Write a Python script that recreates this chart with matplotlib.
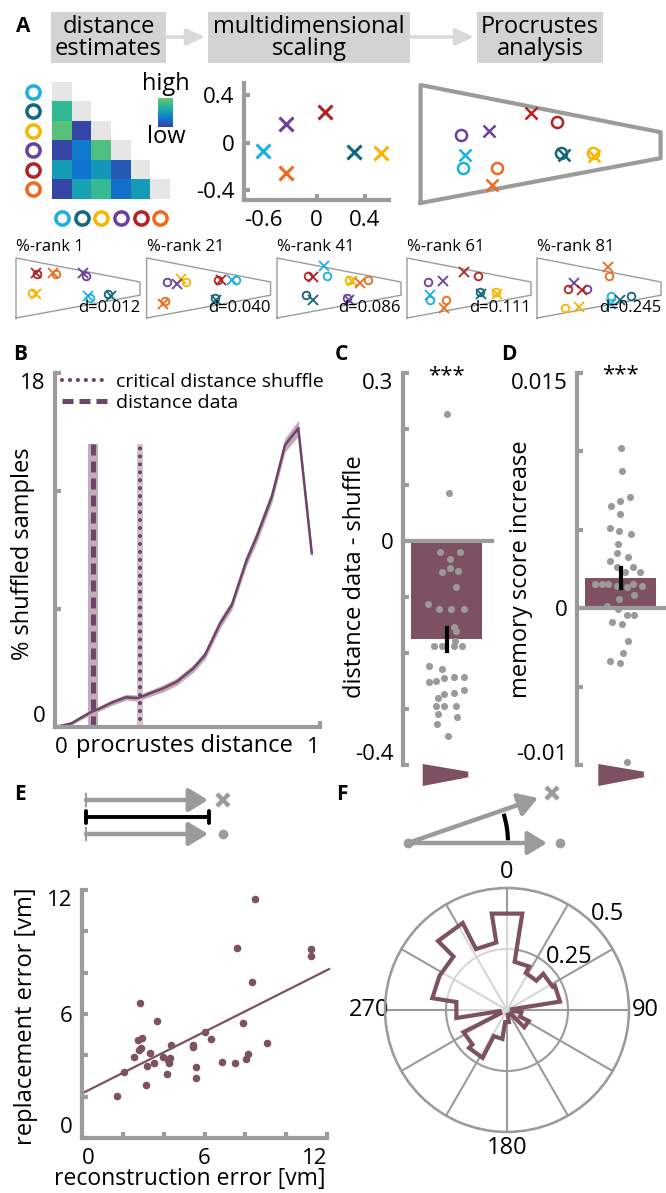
import numpy as np
import matplotlib.pyplot as plt
from matplotlib.colors import LinearSegmentedColormap, ListedColormap
from matplotlib.patches import Polygon, Rectangle, Arc

plt.rcParams['font.family'] = ['Open Sans', 'DejaVu Sans']
plt.rcParams['axes.unicode_minus'] = False

# ---------------- data ----------------
item_colors = ['#1cb0e2', '#14677a', '#f7b500', '#6a3fa0', '#b42323', '#f06a1e']

# A: distance estimates, lower triangle (0 = low, 1 = high)
dist_rows = [[],
             [0.75],
             [0.92, 0.04],
             [0.04, 0.32, 0.88],
             [0.52, 0.30, 0.48, 0.15],
             [0.05, 0.55, 0.78, 0.27, 0.50]]

# A: multidimensional scaling solution
mds_x = [-0.44, 0.31, 0.53, -0.25, 0.07, -0.25]
mds_y = [-0.07, -0.08, -0.09, 0.16, 0.26, -0.25]

# arena outline (normalised)
arena_u = [0, 1, 1, 0, 0]
arena_v = [0, 0.38, 0.60, 1, 0]

# A: procrustes result, true (o) and estimated (x) positions
true_u = [0.177, 0.585, 0.717, 0.168, 0.568, 0.318]
true_v = [0.297, 0.424, 0.424, 0.576, 0.686, 0.297]
est_u = [0.185, 0.597, 0.723, 0.283, 0.460, 0.297]
est_v = [0.407, 0.407, 0.398, 0.610, 0.763, 0.153]

# A: examples at several %-ranks
ranks = [1, 21, 41, 61, 81]
rank_d = ['0.012', '0.040', '0.086', '0.111', '0.245']
rank_true_u = [[0.596, 0.743, 0.127, 0.562, 0.171, 0.322],
               [0.719, 0.555, 0.318, 0.164, 0.572, 0.147],
               [0.404, 0.233, 0.582, 0.568, 0.250, 0.733],
               [0.188, 0.589, 0.719, 0.171, 0.572, 0.315],
               [0.599, 0.760, 0.223, 0.404, 0.247, 0.582]]
rank_true_v = [[0.333, 0.406, 0.417, 0.694, 0.733, 0.739],
               [0.639, 0.333, 0.594, 0.600, 0.628, 0.278],
               [0.694, 0.389, 0.639, 0.333, 0.694, 0.639],
               [0.306, 0.428, 0.428, 0.600, 0.694, 0.306],
               [0.372, 0.372, 0.167, 0.483, 0.483, 0.694]]
rank_est_u = [[0.582, 0.767, 0.161, 0.538, 0.161, 0.298],
              [0.692, 0.558, 0.274, 0.247, 0.599, 0.130],
              [0.377, 0.291, 0.603, 0.582, 0.291, 0.671],
              [0.188, 0.599, 0.726, 0.291, 0.462, 0.298],
              [0.599, 0.668, 0.342, 0.298, 0.360, 0.572]]
rank_est_v = [[0.372, 0.361, 0.406, 0.750, 0.750, 0.750],
              [0.639, 0.294, 0.650, 0.572, 0.639, 0.239],
              [0.870, 0.306, 0.622, 0.294, 0.683, 0.583],
              [0.389, 0.400, 0.400, 0.622, 0.761, 0.167],
              [0.239, 0.294, 0.183, 0.583, 0.461, 0.850]]

# B: distribution of shuffled procrustes distances
shuf_x = [0.019, 0.063, 0.094, 0.132, 0.170, 0.214, 0.268, 0.314, 0.358, 0.409,
          0.459, 0.522, 0.566, 0.623, 0.667, 0.723, 0.761, 0.818, 0.868, 0.918, 0.969]
shuf_y = [0.05, 0.19, 0.44, 0.73, 0.95, 1.24, 1.51, 1.47, 1.71, 1.97,
          2.30, 2.98, 3.66, 5.27, 6.20, 8.49, 9.67, 11.71, 14.34, 15.19, 8.83]
shuf_sem = [0.05, 0.08, 0.10, 0.12, 0.12, 0.14, 0.15, 0.15, 0.16, 0.18,
            0.18, 0.20, 0.22, 0.25, 0.25, 0.28, 0.30, 0.32, 0.35, 0.40, 0.30]
data_dist, data_err = 0.143, 0.019
crit_dist, crit_err = 0.321, 0.011
vline_top = 14.4

# C: distance data - shuffle per participant
c_vals = [0.226, 0.086, -0.020, -0.020, -0.033, -0.055, -0.048, -0.054, -0.083,
          -0.113, -0.121, -0.121, -0.122, -0.154, -0.161, -0.179, -0.188, -0.188,
          -0.188, -0.188, -0.224, -0.229, -0.251, -0.250, -0.244, -0.243, -0.243,
          -0.280, -0.274, -0.272, -0.266, -0.295, -0.295, -0.295, -0.309, -0.314,
          -0.326, -0.348]
c_jit = [0, 2, -7, 13, 3, -5, 3, 11, 9, -19, -8, 4, 17, 7, 9, 8, -13, -5, 7, 15,
         -18, -5, -18, -11, -3, 7, 17, -9, -3, 7, 17, -11, -3, 9, -9, 10, -10, 1]

# D: memory score increase per participant
d_vals = [0.01024, 0.00876, 0.00654, 0.00684, 0.00708, 0.00600, 0.00514, 0.00495,
          0.00472, 0.00408, 0.00351, 0.00325, 0.00302, 0.00261, 0.00261, 0.00230,
          0.00230, 0.00155, 0.00155, 0.00155, 0.00142, 0.00138, 0.00155, 0.00142,
          0.00057, 0.00085, 0.00015, -0.00006, -0.00043, -0.00043, -0.00089,
          -0.00100, -0.00207, -0.00283, -0.00336, -0.00347, -0.00978]
d_jit = [0, 1, -10, -1, 9, -1, -11, -2, 10, -3, -4, 7, -11, -4, 12, 4, 19, -26, -19,
         -13, -4, 6, 12, 21, -2, 13, -14, -3, 6, 13, -9, 1, 7, 2, -11, -1, 6]

# E: reconstruction vs replacement error
e_x = [1.70, 2.06, 2.56, 2.84, 2.76, 2.92, 2.80, 2.89, 3.12, 3.17, 3.33, 3.54,
       3.66, 3.99, 4.18, 4.23, 4.28, 4.31, 4.35, 5.42, 5.46, 5.59, 5.59, 6.03,
       6.34, 6.86, 7.47, 7.61, 7.91, 8.03, 8.15, 8.32, 8.48, 9.05, 11.21, 11.21]
e_y = [2.03, 3.18, 3.93, 6.51, 4.74, 4.82, 4.26, 4.34, 2.55, 3.48, 4.10, 3.64,
       5.68, 3.93, 3.08, 3.77, 3.61, 3.85, 4.50, 4.50, 4.42, 3.42, 2.92, 5.11,
       4.80, 3.69, 3.64, 9.21, 5.55, 3.81, 4.06, 7.56, 11.56, 4.61, 9.13, 8.80]

# F: angular error distribution (20 bins of 18 deg)
rose_centers = list(range(0, 360, 18))
rose_r = [0.40, 0.20, 0.17, 0.21, 0.22, 0.02, 0.06, 0.10, 0.02, 0.02,
          0.05, 0.12, 0.22, 0.20, 0.03, 0.21, 0.31, 0.31, 0.40, 0.28]

# ---------------- style ----------------
W, H = 666, 1193
GREY = '#9b9b9b'
MAUVE = '#7d5062'
LINE = '#6e4468'
DOT = '#9a9a9a'
TICK = 16
LAB = 17

fig = plt.figure(figsize=(W / 100, H / 100), dpi=100)


def box(x0, y0, x1, y1):
    return [x0 / W, 1 - y1 / H, (x1 - x0) / W, (y1 - y0) / H]


def style(ax):
    for s in ['top', 'right']:
        ax.spines[s].set_visible(False)
    for s in ['left', 'bottom']:
        ax.spines[s].set_color(GREY)
        ax.spines[s].set_linewidth(3)
    ax.tick_params(direction='in', length=4, width=3, color=GREY,
                   labelsize=TICK, pad=7)
    ax.set_facecolor('none')


def inset_labels(ax, axis):
    labs = ax.get_yticklabels() if axis == 'y' else ax.get_xticklabels()
    if axis == 'y':
        labs[-1].set_va('top')
        labs[0].set_va('bottom')
    else:
        labs[0].set_ha('left')
        labs[-1].set_ha('right')


# overlay in pixel coordinates for labels and schematics
ax0 = fig.add_axes([0, 0, 1, 1])
ax0.set_xlim(0, W)
ax0.set_ylim(H, 0)
ax0.axis('off')

for lab, (x, y) in zip('ABCDEF', [(23, 27), (20, 355), (341, 355), (509, 355),
                                  (20, 795), (342, 795)]):
    ax0.text(x, y, lab, fontsize=15, fontweight='bold', ha='center', va='center')

# header boxes
headers = [('distance\nestimates', 51, 166), ('multidimensional\nscaling', 208, 410),
           ('Procrustes\nanalysis', 477, 603)]
for txt, x0, x1 in headers:
    ax0.add_patch(Rectangle((x0, 12), x1 - x0, 51, color='#d3d3d3', lw=0))
    ax0.text((x0 + x1) / 2, 38, txt, ha='center', va='center', fontsize=17,
             linespacing=0.92)
for xa, xb in [(166, 205), (410, 474)]:
    ax0.annotate('', xy=(xb, 37), xytext=(xa, 37),
                 arrowprops=dict(arrowstyle='-|>,head_length=1.1,head_width=0.5',
                                 color='#d9d9d9', lw=2.5, mutation_scale=10,
                                 shrinkA=0, shrinkB=0))

# ---------------- A: heatmap ----------------
n = len(dist_rows)
mat = np.full((n, n), np.nan)
diag = np.full((n, n), np.nan)
for i, row in enumerate(dist_rows):
    for j, v in enumerate(row):
        mat[i, j] = v
    diag[i, i] = 1
cmap = LinearSegmentedColormap.from_list(
    'par', [(0, '#3b3f9e'), (0.3, '#0f76cf'), (0.55, '#17a3b2'),
            (0.8, '#38bd8f'), (1, '#6fc46b')])
axH = fig.add_axes(box(52, 82, 170, 199))
im = axH.imshow(mat, cmap=cmap, vmin=0, vmax=1, aspect='auto')
axH.imshow(diag, cmap=ListedColormap(['#e6e6e6']), aspect='auto')
axH.set_xlim(-0.5, n - 0.5)
axH.set_ylim(n - 0.5, -0.5)
axH.axis('off')
for i in range(n):
    axH.plot(-1.47, i, 'o', mfc='none', mec=item_colors[i], ms=9.5, mew=2.5,
             clip_on=False)
    axH.plot(i, 6.5, 'o', mfc='none', mec=item_colors[i], ms=9.5, mew=2.5,
             clip_on=False)

cax = fig.add_axes(box(158, 98, 173, 127))
cb = fig.colorbar(im, cax=cax)
cb.set_ticks([])
cb.outline.set_visible(False)
ax0.text(166, 84, 'high', ha='center', va='center', fontsize=17)
ax0.text(166, 137, 'low', ha='center', va='center', fontsize=17)

# ---------------- A: MDS ----------------
axM = fig.add_axes(box(244, 83, 389, 200))
style(axM)
for i in range(n):
    axM.plot(mds_x[i], mds_y[i], 'x', color=item_colors[i], ms=10, mew=2.2)
axM.set_xlim(-0.6, 0.6)
axM.set_ylim(-0.48, 0.5)
axM.set_xticks([-0.6, 0, 0.4], ['-0.6', '0', '0.4'])
axM.set_yticks([-0.4, 0, 0.4], ['-0.4', '0', '0.4'])
axM.get_xticklabels()[0].set_ha('left')

# ---------------- A: procrustes arena ----------------
axP = fig.add_axes(box(420.6, 85, 660.6, 203))
axP.plot(arena_u, arena_v, color=GREY, lw=3, clip_on=False)
for i in range(n):
    axP.plot(true_u[i], true_v[i], 'o', mfc='none', mec=item_colors[i], ms=8,
             mew=1.8, clip_on=False)
    axP.plot(est_u[i], est_v[i], 'x', color=item_colors[i], ms=9, mew=1.8,
             clip_on=False)
axP.set_xlim(0, 1)
axP.set_ylim(0, 1)
axP.axis('off')

for k, left in enumerate([16, 146.6, 277, 407, 537]):
    ax = fig.add_axes(box(left, 258, left + 124, 318))
    ax.plot(arena_u, arena_v, color=GREY, lw=1, clip_on=False)
    for i in range(n):
        ax.plot(rank_true_u[k][i], rank_true_v[k][i], 'o', mfc='none',
                mec=item_colors[i], ms=5.5, mew=1.3, clip_on=False)
        ax.plot(rank_est_u[k][i], rank_est_v[k][i], 'x', color=item_colors[i],
                ms=6.5, mew=1.3, clip_on=False)
    ax.set_xlim(0, 1)
    ax.set_ylim(0, 1)
    ax.axis('off')
    ax.text(0, 1.18, f'%-rank {ranks[k]}', transform=ax.transAxes, fontsize=12,
            ha='left', va='center')
    ax.text(1.0, 0.17, f'd={rank_d[k]}', transform=ax.transAxes, fontsize=12,
            ha='right', va='center')

# ---------------- B ----------------
axB = fig.add_axes(box(55, 373, 320, 727))
style(axB)
sx, sy, se = np.array(shuf_x), np.array(shuf_y), np.array(shuf_sem)
axB.fill_between(sx, sy - se, sy + se, color='#c2a9b8', lw=0)
axB.plot(sx, sy, color=LINE, lw=1.8)
axB.fill_betweenx([0, vline_top], data_dist - data_err, data_dist + data_err,
                  color='#c4abba', lw=0)
axB.fill_betweenx([0, vline_top], crit_dist - crit_err, crit_dist + crit_err,
                  color='#d6c5cf', lw=0)
h_data, = axB.plot([data_dist, data_dist], [0, vline_top], color=LINE, lw=3.6,
                   ls=(0, (2.2, 1.2)))
h_crit, = axB.plot([crit_dist, crit_dist], [0, vline_top], color=LINE, lw=3,
                   ls=(0, (0.01, 1.9)), dash_capstyle='round')
axB.legend([h_crit, h_data], ['critical distance shuffle', 'distance data'],
           loc='upper left', bbox_to_anchor=(62 / W, 1 - 373 / H),
           bbox_transform=fig.transFigure, frameon=False, fontsize=14,
           handlelength=2.3, handletextpad=0.5, labelspacing=0.15, borderpad=0,
           borderaxespad=0)
axB.set_xlim(0, 1)
axB.set_ylim(0, 18)
axB.set_xticks([0, 1], ['0', '1'])
axB.set_yticks([0, 6, 12, 18], ['0', '', '', '18'])
inset_labels(axB, 'x')
inset_labels(axB, 'y')
axB.set_ylabel('% shuffled samples', fontsize=LAB)
axB.yaxis.set_label_coords(-0.075, 0.49)
axB.set_xlabel('procrustes distance', fontsize=LAB)
axB.xaxis.set_label_coords(0.49, -0.02)

# ---------------- C & D ----------------
def bar_panel(x0, vals, jit, ylim, ticks, labels, ylabel, star_y):
    ax = fig.add_axes(box(x0, 373, x0 + 89, 765))
    style(ax)
    vals = np.array(vals)
    mean = vals.mean()
    sem = vals.std(ddof=1) / np.sqrt(len(vals))
    pos = 0.49
    ax.bar(pos, mean, width=0.8, color=MAUVE, zorder=1)
    ax.scatter(pos + np.array(jit) / 89, vals, s=26, color=DOT, lw=0, zorder=2)
    ax.plot([pos, pos], [mean - sem, mean + sem], color='k', lw=3, zorder=3)
    ax.text(pos, star_y, '***', ha='center', va='center', fontsize=16)
    ax.spines['bottom'].set_position(('data', 0))
    ax.set_xticks([])
    ax.set_xlim(0, 1)
    ax.set_ylim(*ylim)
    ax.set_yticks(ticks, labels)
    inset_labels(ax, 'y')
    ax.set_ylabel(ylabel, fontsize=LAB)
    return ax


axC = bar_panel(403, c_vals, c_jit, (-0.4, 0.3),
                [-0.4, -0.3, -0.2, -0.1, 0, 0.1, 0.2, 0.3],
                ['-0.4', '', '', '', '0', '', '', '0.3'],
                'distance data - shuffle', 0.296)
axC.yaxis.set_label_coords(-0.40, 0.48)
axD = bar_panel(577, d_vals, d_jit, (-0.01, 0.015),
                [-0.01, -0.005, 0, 0.005, 0.01, 0.015],
                ['-0.01', '', '0', '', '', '0.015'],
                'memory score increase', 0.0149)
axD.yaxis.set_label_coords(-0.49, 0.5)

for x0 in [422.7, 598.3]:
    ax0.add_patch(Polygon([(x0, 764), (x0 + 45.6, 771.7), (x0 + 45.6, 777.3),
                           (x0, 786)], closed=True, color=MAUVE, lw=0))

# ---------------- E ----------------
# schematic
for y in [800, 834]:
    ax0.annotate('', xy=(208, y), xytext=(86, y),
                 arrowprops=dict(arrowstyle='-|>,head_length=1.15,head_width=0.7',
                                 color=GREY, lw=3.2, mutation_scale=10,
                                 shrinkA=0, shrinkB=0))
    ax0.plot([86, 86], [y - 6, y + 6], color=GREY, lw=1.5)
ax0.annotate('', xy=(209, 817), xytext=(86, 817),
             arrowprops=dict(arrowstyle='|-|,widthA=0.45,widthB=0.45',
                             color='k', lw=2.8, mutation_scale=10,
                             shrinkA=0, shrinkB=0))
ax0.plot(223, 800, 'x', color=GREY, ms=8, mew=3.2)
ax0.plot(223, 834, 'o', color=GREY, ms=7, mew=0)

axE = fig.add_axes(box(82, 890, 327, 1138))
style(axE)
axE.scatter(e_x, e_y, s=30, color=MAUVE, lw=0, zorder=2)
slope, icpt = np.polyfit(e_x, e_y, 1)
fx = np.array([0, 12.1])
axE.plot(fx, icpt + slope * fx, color=MAUVE, lw=1.6, clip_on=False)
axE.set_xlim(0, 12)
axE.set_ylim(0, 12)
axE.set_xticks(range(0, 13, 2), ['0', '', '', '6', '', '', '12'])
axE.set_yticks(range(0, 13, 2), ['0', '', '', '6', '', '', '12'])
inset_labels(axE, 'x')
inset_labels(axE, 'y')
axE.set_ylabel('replacement error [vm]', fontsize=LAB)
axE.yaxis.set_label_coords(-0.18, 0.49)
axE.set_xlabel('reconstruction error [vm]', fontsize=16.5)
axE.xaxis.set_label_coords(0.44, -0.115)

# ---------------- F ----------------
ox, oy = 408, 843
ax0.annotate('', xy=(547, oy), xytext=(ox, oy),
             arrowprops=dict(arrowstyle='-|>,head_length=1.15,head_width=0.7',
                             color=GREY, lw=3.2, mutation_scale=10,
                             shrinkA=0, shrinkB=0))
ax0.annotate('', xy=(538, 798), xytext=(ox, oy),
             arrowprops=dict(arrowstyle='-|>,head_length=1.15,head_width=0.7',
                             color=GREY, lw=3.2, mutation_scale=10,
                             shrinkA=0, shrinkB=0))
ax0.plot(ox, oy, 'o', color=GREY, ms=7, mew=0)
ax0.plot(552, 793, 'x', color=GREY, ms=8, mew=3.2)
ax0.plot(560, 843, 'o', color=GREY, ms=7, mew=0)
ax0.add_patch(Arc((ox, oy), 200, 200, theta1=-17, theta2=-1.5, color='k', lw=3))

axF = fig.add_axes(box(385, 888, 629, 1132), projection='polar')
axF.set_theta_zero_location('N')
axF.set_theta_direction(-1)
axF.set_facecolor('none')
theta, rr = [], []
for c, r in zip(rose_centers, rose_r):
    theta += [np.deg2rad(c - 9), np.deg2rad(c + 9)]
    rr += [r, r]
axF.fill(theta, rr, facecolor=(1, 1, 1, 0.6), edgecolor=MAUVE, lw=3, zorder=3)
axF.set_ylim(0, 0.5)
axF.set_thetagrids(range(0, 360, 30),
                   ['0', '', '', '90', '', '', '180', '', '', '270', '', ''],
                   fontsize=LAB)
axF.set_rgrids([0.25, 0.5], ['', ''])
axF.grid(color=GREY, lw=1.5)
axF.spines['polar'].set_color(GREY)
axF.spines['polar'].set_linewidth(1.8)
axF.tick_params(axis='x', pad=1)
axF.text(np.deg2rad(46.5), 0.57, '0.5', ha='center', va='center', fontsize=LAB,
         clip_on=False)
axF.text(np.deg2rad(50), 0.335, '0.25', ha='center', va='center', fontsize=LAB,
         clip_on=False)

fig.savefig('out.png', dpi=100)
